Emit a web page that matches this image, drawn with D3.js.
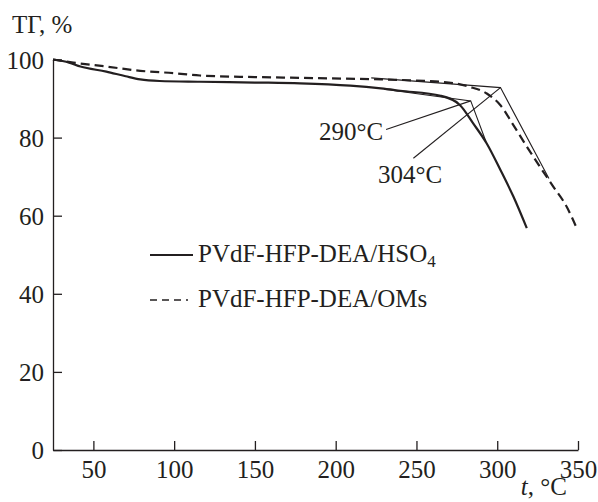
<!DOCTYPE html>
<html>
<head>
<meta charset="utf-8">
<script src="https://cdn.jsdelivr.net/npm/d3@7"></script>
<style>
  body { margin: 0; background: #fff; }
  svg text { font-family: "Liberation Serif", "DejaVu Serif", serif; fill: #231f20; }
</style>
</head>
<body>
<div id="chart"></div>
<script>
// temperature (°C) and TG (%)
var tempHSO4 = [25, 35, 42, 58, 70, 79, 91, 116, 150, 178, 209, 228, 240, 265, 277, 285, 293.5, 302, 310, 318.3];
var tgHSO4   = [100, 99.2, 98.2, 96.9, 95.7, 94.9, 94.5, 94.3, 94.1, 93.9, 93.3, 92.6, 92.0, 90.7, 88.3, 83.7, 78.5, 71.7, 64.9, 56.8];

var tempOMs = [25, 37.6, 58, 79, 99.5, 116, 150, 178, 228, 250, 270, 283, 293.5, 302, 310, 318.3, 326.5, 334.8, 343, 349.2];
var tgOMs   = [100, 99.2, 98.2, 97.1, 96.5, 95.9, 95.5, 95.3, 94.9, 94.6, 94.1, 93.0, 91.3, 88.3, 83.2, 77.7, 72.5, 67.4, 62.3, 56.8];

// tangent construction lines (start, onset vertex, end)
var tangentHSO4 = [[230, 92.4], [283.6, 89.4], [293, 79]];
var tangentOMs  = [[222, 95.3], [302, 92.8], [332, 69.5]];

// onset labels: text, label anchor point, vertex it points at
var onsetLabels = ["290°C", "304°C"];
var onsetFrom = [[231.2, 82.1], [248.1, 74.7]];
var onsetTo = [[283.6, 89.4], [302, 92.8]];

var xTicks = [50, 100, 150, 200, 250, 300, 350];
var yTicks = [0, 20, 40, 60, 80, 100];

var seriesNames = ["PVdF-HFP-DEA/HSO", "PVdF-HFP-DEA/OMs"];

var width = 598, height = 502;
var ink = "#231f20";

var svg = d3.select("#chart").append("svg")
    .attr("width", width)
    .attr("height", height);

var x = d3.scaleLinear().domain([25, 350]).range([53, 578]);
var y = d3.scaleLinear().domain([0, 100]).range([450, 59.5]);

// axes
var xAxis = svg.append("g")
    .attr("transform", "translate(0," + y(0) + ")")
    .call(d3.axisBottom(x).tickValues(xTicks).tickSizeInner(-9).tickSizeOuter(0).tickPadding(10));

var yAxis = svg.append("g")
    .attr("transform", "translate(" + x(25) + ",0)")
    .call(d3.axisLeft(y).tickValues(yTicks).tickSizeInner(-9).tickSizeOuter(0).tickPadding(9));

[xAxis, yAxis].forEach(function(g) {
  g.attr("font-family", null).attr("font-size", null);
  g.selectAll("path, line").attr("stroke", ink).attr("stroke-width", 1.3);
  g.selectAll("text").style("font-size", "25px").attr("fill", ink);
});
yAxis.selectAll("text").attr("dy", "0.34em");

svg.append("text")
    .attr("x", 12)
    .attr("y", 33)
    .style("font-size", "25px")
    .text("ТГ, %");

var xLabel = svg.append("text")
    .attr("x", 567)
    .attr("y", 495)
    .style("font-size", "25px")
    .style("text-anchor", "end");
xLabel.append("tspan").style("font-style", "italic").text("t");
xLabel.append("tspan").text(", °C");

// curves
var line = d3.line()
    .x(function(d) { return x(d[0]); })
    .y(function(d) { return y(d[1]); })
    .curve(d3.curveMonotoneX);

var straight = d3.line()
    .x(function(d) { return x(d[0]); })
    .y(function(d) { return y(d[1]); });

var dataHSO4 = tempHSO4.map(function(t, i) { return [t, tgHSO4[i]]; });
var dataOMs = tempOMs.map(function(t, i) { return [t, tgOMs[i]]; });

[tangentHSO4, tangentOMs].forEach(function(d) {
  svg.append("path")
      .attr("d", straight(d))
      .attr("fill", "none")
      .attr("stroke", ink)
      .attr("stroke-width", 1.1);
});

onsetFrom.forEach(function(p, i) {
  svg.append("path")
      .attr("d", straight([p, onsetTo[i]]))
      .attr("fill", "none")
      .attr("stroke", ink)
      .attr("stroke-width", 1.1);
});

svg.append("path")
    .attr("d", line(dataHSO4))
    .attr("fill", "none")
    .attr("stroke", ink)
    .attr("stroke-width", 2.2);

svg.append("path")
    .attr("d", line(dataOMs))
    .attr("fill", "none")
    .attr("stroke", ink)
    .attr("stroke-width", 2.2)
    .attr("stroke-dasharray", "9,5");

// onset labels
svg.append("text")
    .attr("x", x(onsetFrom[0][0]) - 3)
    .attr("y", 140)
    .style("font-size", "25px")
    .style("text-anchor", "end")
    .text(onsetLabels[0]);

svg.append("text")
    .attr("x", 378)
    .attr("y", 183)
    .style("font-size", "25px")
    .text(onsetLabels[1]);

// legend
svg.append("line")
    .attr("x1", 150).attr("x2", 193)
    .attr("y1", 255).attr("y2", 255)
    .attr("stroke", ink).attr("stroke-width", 2);

svg.append("line")
    .attr("x1", 150).attr("x2", 188)
    .attr("y1", 300).attr("y2", 300)
    .attr("stroke", ink).attr("stroke-width", 1.6)
    .attr("stroke-dasharray", "7,5");

var leg1 = svg.append("text")
    .attr("x", 198)
    .attr("y", 262)
    .style("font-size", "25px");
leg1.append("tspan").text(seriesNames[0]);
leg1.append("tspan").attr("dy", 5).style("font-size", "17px").text("4");

svg.append("text")
    .attr("x", 198)
    .attr("y", 307)
    .style("font-size", "25px")
    .text(seriesNames[1]);
</script>
</body>
</html>
